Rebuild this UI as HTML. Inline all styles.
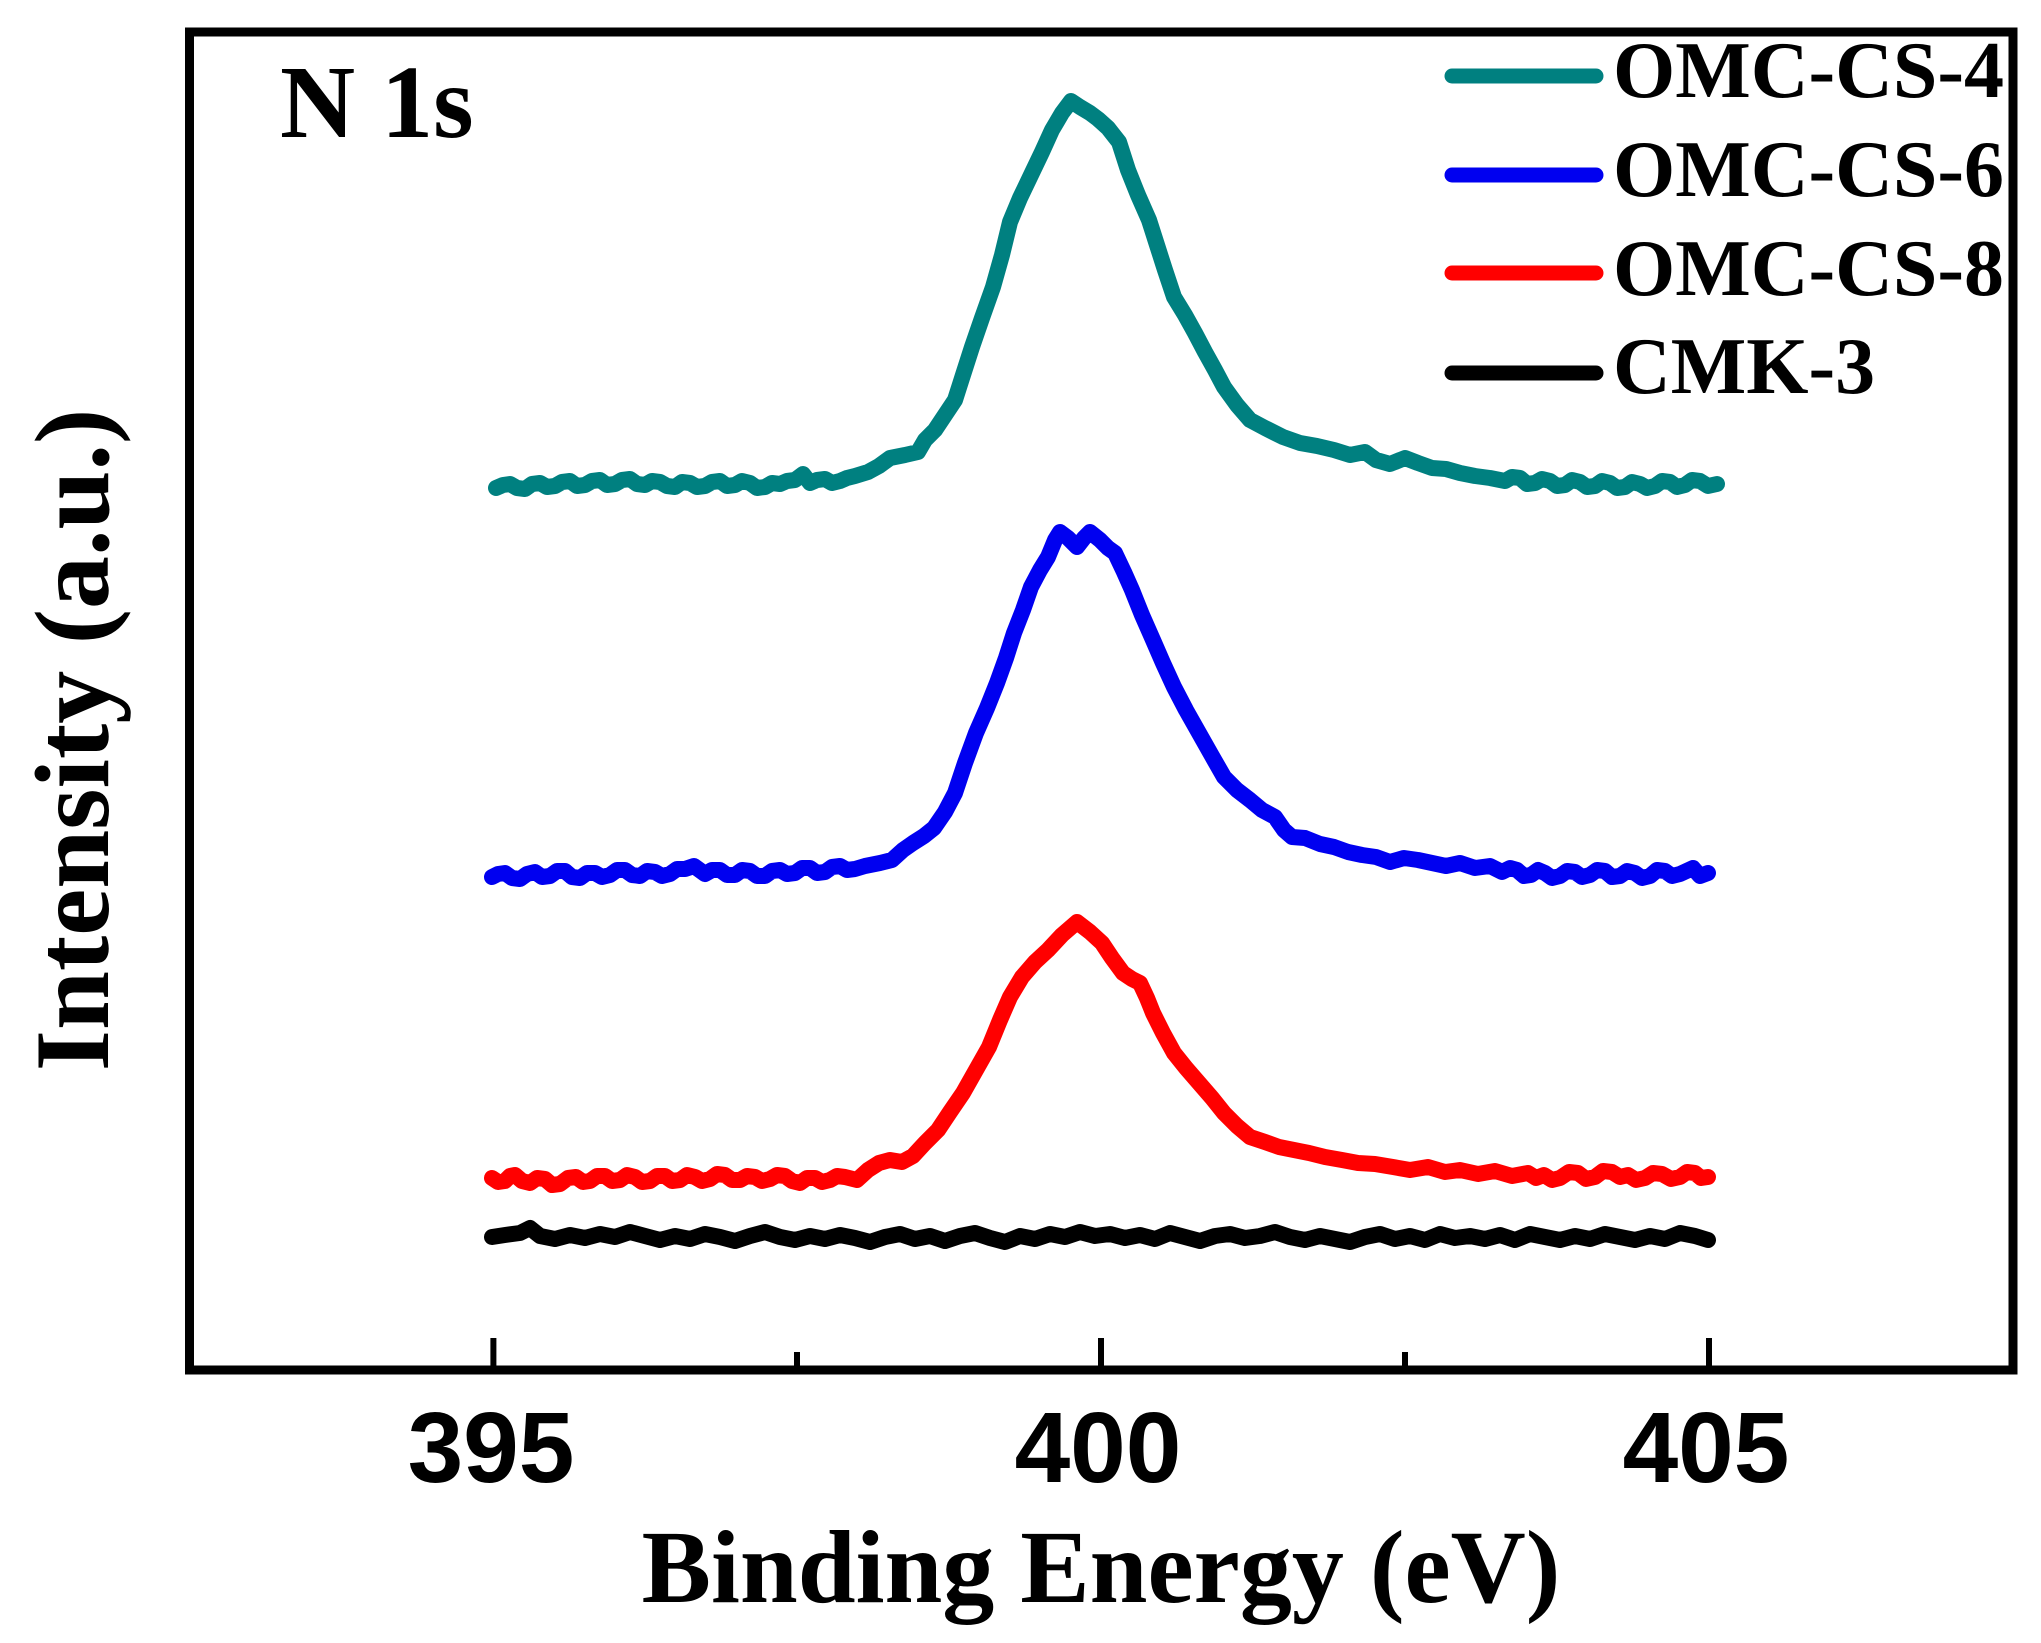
<!DOCTYPE html>
<html>
<head>
<meta charset="utf-8">
<style>
  html, body { margin:0; padding:0; background:#fff; }
  svg { display:block; }
  .serif { font-family: "Liberation Serif", "Times New Roman", serif; font-weight: bold; }
  .sans { font-family: "Liberation Sans", Arial, sans-serif; font-weight: bold; }
</style>
</head>
<body>
<svg width="2041" height="1643" viewBox="0 0 2041 1643" xmlns="http://www.w3.org/2000/svg">
  <rect x="0" y="0" width="2041" height="1643" fill="#ffffff"/>

  <!-- Frame -->
  <rect x="189.5" y="32" width="1823.5" height="1338" fill="none" stroke="#000" stroke-width="9"/>

  <!-- Ticks -->
  <g stroke="#000" stroke-width="6">
    <line x1="493.4" y1="1338" x2="493.4" y2="1370"/>
    <line x1="797" y1="1352" x2="797" y2="1370"/>
    <line x1="1101" y1="1338" x2="1101" y2="1370"/>
    <line x1="1405" y1="1352" x2="1405" y2="1370"/>
    <line x1="1709" y1="1338" x2="1709" y2="1370"/>
  </g>

  <!-- Tick labels -->
  <g class="sans" font-size="100" text-anchor="middle" fill="#000">
    <text x="491" y="1482">395</text>
    <text x="1098" y="1482">400</text>
    <text x="1706" y="1482">405</text>
  </g>

  <!-- Axis titles -->
  <text class="serif" x="1101" y="1602" font-size="104" text-anchor="middle" fill="#000">Binding Energy (eV)</text>
  <text class="serif" transform="translate(108,740) rotate(-90)" font-size="106" text-anchor="middle" fill="#000">Intensity (a.u.)</text>

  <!-- Panel label -->
  <text class="serif" x="280" y="137" font-size="104" fill="#000">N 1s</text>

  <!-- Curves -->
  <g fill="none" stroke-width="16" stroke-linejoin="round" stroke-linecap="round">
    <polyline stroke="#008080" points="496,488 503,485 510,484 517,488 525,489 532,484 540,483 547,487 555,486 562,482 570,481 577,486 585,485 592,481 600,480 607,485 615,484 622,480 630,479 637,484 645,485 652,481 660,482 667,486 675,487 682,482 690,483 697,487 705,486 712,482 720,481 727,486 735,485 742,481 750,483 757,488 765,487 772,483 780,484 787,481 795,480 803,474 810,483 817,480 825,479 832,483 840,481 847,478 855,476 868,472 879,466 890,458 905,455 918,452 925,440 935,430 945,415 955,400 963,375 972,347 982,318 993,287 1002,255 1010,222 1020,198 1031,175 1042,152 1052,130 1062,113 1071,101 1080,107 1090,113 1098,119 1108,128 1119,142 1128,170 1138,195 1149,220 1157,245 1165,270 1174,297 1185,315 1195,333 1205,352 1215,370 1224,387 1237,405 1250,420 1265,428 1283,437 1300,443 1317,446 1334,450 1350,455 1365,452 1376,460 1390,464 1405,458 1418,463 1432,468 1446,469 1460,473 1475,476 1490,478 1505,481 1512,477 1520,478 1527,484 1535,483 1542,479 1550,481 1557,486 1565,485 1572,480 1580,482 1587,487 1595,486 1602,481 1610,483 1617,488 1625,487 1632,482 1640,484 1647,488 1655,486 1662,481 1670,482 1677,487 1685,485 1692,480 1700,481 1708,486 1717,484"/>
    <polyline stroke="#0000f0" points="492,877 498,874 505,873 512,878 520,879 527,874 535,872 542,877 550,876 557,871 565,871 572,877 580,878 587,873 595,873 602,877 610,875 617,870 625,870 632,875 640,876 647,871 655,872 662,876 670,874 677,869 685,869 694,866 705,874 712,870 720,870 727,875 735,875 742,870 750,871 757,876 765,876 772,871 780,870 787,874 795,873 802,868 810,868 817,873 825,872 832,867 840,866 847,870 855,869 865,866 880,863 892,860 903,850 913,843 924,836 934,828 945,812 955,793 965,763 976,733 987,708 997,683 1006,658 1014,633 1023,610 1031,587 1040,570 1048,557 1055,540 1060,532 1068,538 1077,547 1084,538 1090,532 1100,540 1108,548 1115,553 1124,572 1132,590 1142,615 1153,640 1163,663 1174,687 1186,710 1199,733 1212,756 1224,777 1237,790 1250,800 1262,810 1275,817 1284,830 1292,837 1305,838 1320,844 1334,847 1348,852 1362,855 1376,857 1390,862 1404,858 1418,860 1432,863 1446,866 1460,863 1475,868 1490,866 1502,872 1510,868 1517,870 1524,876 1531,875 1538,870 1545,873 1552,878 1560,876 1567,871 1575,872 1582,877 1590,875 1597,870 1605,871 1612,877 1620,876 1627,871 1635,873 1642,878 1650,876 1657,870 1665,871 1672,876 1680,874 1693,868 1700,876 1708,873"/>
    <polyline stroke="#ff0000" points="492,1178 498,1182 505,1181 510,1176 515,1175 522,1181 530,1183 537,1178 545,1179 552,1185 560,1184 568,1178 576,1177 583,1182 590,1181 597,1176 605,1176 612,1181 620,1180 627,1175 635,1177 642,1182 650,1181 657,1176 665,1176 672,1181 680,1180 687,1175 695,1177 702,1181 710,1179 717,1174 725,1175 732,1180 740,1180 747,1176 755,1177 762,1181 770,1179 777,1175 785,1176 792,1181 800,1183 807,1178 815,1178 822,1182 830,1180 837,1176 845,1177 857,1180 868,1170 879,1163 890,1160 902,1162 913,1156 925,1143 938,1130 950,1112 963,1093 976,1070 989,1047 1000,1020 1010,997 1022,977 1035,962 1048,950 1062,935 1077,922 1090,932 1102,943 1112,958 1123,973 1132,979 1140,983 1147,998 1153,1013 1163,1033 1174,1053 1186,1068 1199,1083 1212,1098 1224,1113 1237,1126 1250,1137 1265,1142 1279,1147 1294,1150 1309,1153 1325,1157 1342,1160 1358,1163 1375,1164 1393,1167 1410,1170 1428,1167 1445,1172 1460,1170 1478,1174 1495,1171 1512,1176 1528,1173 1536,1178 1544,1175 1552,1180 1560,1178 1569,1172 1578,1173 1586,1179 1595,1177 1603,1171 1612,1172 1620,1177 1628,1175 1636,1180 1645,1178 1653,1173 1662,1174 1671,1179 1680,1177 1687,1172 1695,1173 1701,1178 1708,1177"/>
    <polyline stroke="#000000" points="492,1237 505,1235 520,1233 530,1228 540,1236 555,1239 570,1235 585,1238 600,1234 615,1237 630,1232 645,1236 660,1240 675,1236 690,1239 705,1234 720,1237 735,1241 750,1236 765,1232 780,1237 795,1240 810,1236 825,1239 840,1235 855,1238 870,1242 885,1237 900,1234 915,1239 930,1236 945,1241 960,1236 975,1233 990,1238 1005,1242 1020,1236 1035,1239 1050,1234 1065,1237 1080,1232 1095,1236 1110,1234 1125,1238 1140,1235 1155,1239 1170,1233 1185,1237 1200,1241 1215,1236 1230,1234 1245,1238 1260,1236 1275,1232 1290,1237 1305,1240 1320,1236 1335,1239 1350,1242 1365,1237 1380,1234 1395,1239 1410,1236 1425,1240 1440,1234 1455,1238 1470,1236 1485,1239 1500,1235 1515,1240 1530,1234 1545,1237 1560,1240 1575,1236 1590,1239 1605,1234 1620,1237 1635,1240 1650,1236 1665,1239 1680,1233 1695,1236 1708,1240"/>
  </g>

  <!-- Legend -->
  <g stroke-width="15" stroke-linecap="round">
    <line x1="1452" y1="76" x2="1596" y2="76" stroke="#008080"/>
    <line x1="1452" y1="175" x2="1596" y2="175" stroke="#0000f0"/>
    <line x1="1452" y1="273" x2="1596" y2="273" stroke="#ff0000"/>
    <line x1="1452" y1="373" x2="1596" y2="373" stroke="#000000"/>
  </g>
  <g class="serif" font-size="80" fill="#000">
    <text x="1613" y="97">OMC-CS-4</text>
    <text x="1613" y="196">OMC-CS-6</text>
    <text x="1613" y="295">OMC-CS-8</text>
    <text x="1613" y="393">CMK-3</text>
  </g>
</svg>
</body>
</html>
